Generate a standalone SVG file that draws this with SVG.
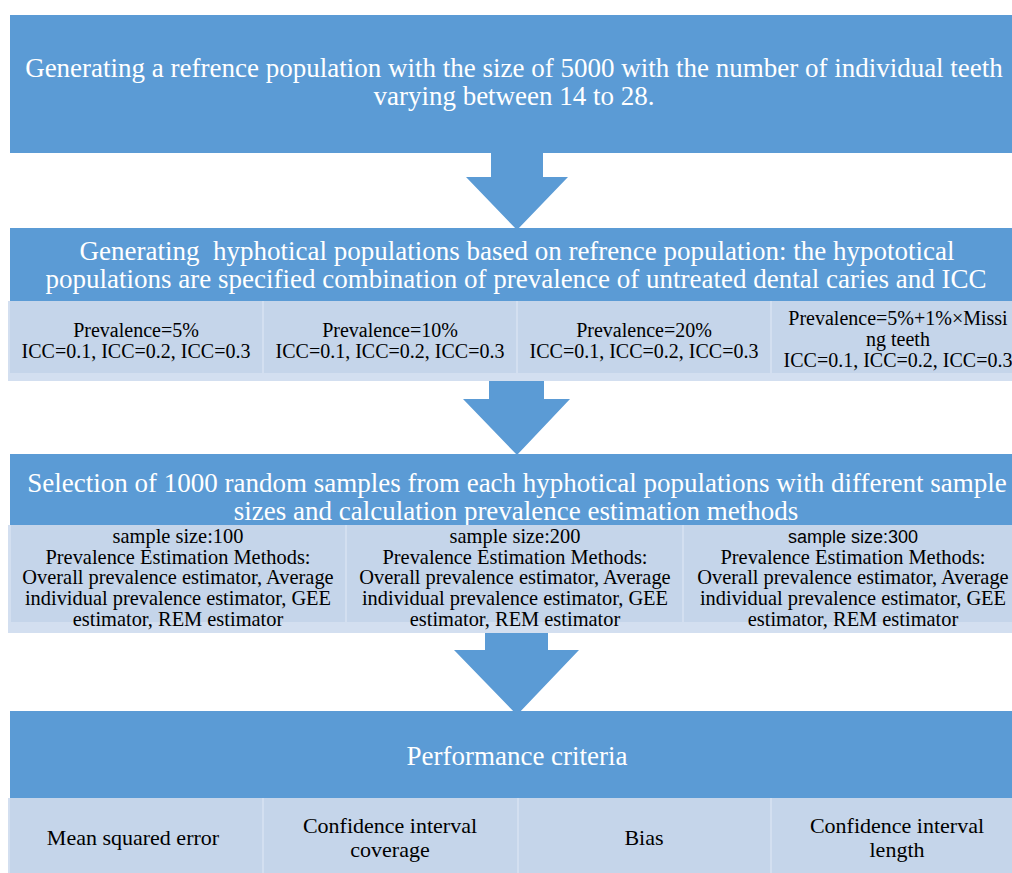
<svg xmlns="http://www.w3.org/2000/svg" width="1012" height="873" viewBox="0 0 1012 873">
<style>
.blue{fill:#5B9BD5}
.cell{fill:#C5D5EA}
.strip{fill:#D3DFF0}
.arrow{fill:#5B9BD5}
text{font-family:"Liberation Serif","Times New Roman",serif;text-anchor:middle}
.wt{fill:#FFFFFF;font-size:27px}
.bt{fill:#000000;font-size:20px}
.bt3{fill:#000000;font-size:20.4px}
.bt4{fill:#000000;font-size:22px}
.sans{font-family:"Liberation Sans",Arial,sans-serif;font-size:18px}
</style>
<rect width="1012" height="873" fill="#FFFFFF"/>
<g id="connectors">
<polygon class="arrow" points="491,153 543,153 543,177 568,177 517,230 466,177 491,177"/>
<polygon class="arrow" points="489,380 544,380 544,399 570,399 517,455 463,399 489,399"/>
<polygon class="arrow" points="485,633 548,633 548,650 579,650 517,715 454,650 485,650"/>
</g>
<g id="node-reference">
<rect class="blue" x="10" y="15" width="1014" height="138"/>
<text class="wt" x="514" y="77">Generating a refrence population with the size of 5000 with the number of individual teeth</text>
<text class="wt" x="514" y="105">varying between 14 to 28.</text>
</g>
<g id="node-hypothetical">
<rect class="blue" x="10" y="228" width="1014" height="73"/>
<text class="wt" x="517" y="260" xml:space="preserve">Generating  hyphotical populations based on refrence population: the hypototical</text>
<text class="wt" x="516" y="288">populations are specified combination of prevalence of untreated dental caries and ICC</text>
<rect class="strip" x="8" y="301" width="1016" height="80"/>
<rect class="cell" x="10" y="301" width="252" height="72"/>
<rect class="cell" x="264" y="301" width="252" height="72"/>
<rect class="cell" x="518" y="301" width="252" height="72"/>
<rect class="cell" x="772" y="301" width="252" height="72"/>
<text class="bt" x="136" y="337">Prevalence=5%</text>
<text class="bt" x="136" y="358">ICC=0.1, ICC=0.2, ICC=0.3</text>
<text class="bt" x="390" y="337">Prevalence=10%</text>
<text class="bt" x="390" y="358">ICC=0.1, ICC=0.2, ICC=0.3</text>
<text class="bt" x="644" y="337">Prevalence=20%</text>
<text class="bt" x="644" y="358">ICC=0.1, ICC=0.2, ICC=0.3</text>
<text class="bt" x="898" y="325">Prevalence=5%+1%×Missi</text>
<text class="bt" x="898" y="346">ng teeth</text>
<text class="bt" x="898" y="367">ICC=0.1, ICC=0.2, ICC=0.3</text>
</g>
<g id="node-samples">
<rect class="blue" x="10" y="454" width="1014" height="71"/>
<text class="wt" x="517" y="492">Selection of 1000 random samples from each hyphotical populations with different sample</text>
<text class="wt" x="516" y="520">sizes and calculation prevalence estimation methods</text>
<rect class="strip" x="8" y="525" width="1016" height="108"/>
<rect class="cell" x="11" y="525" width="334" height="97"/>
<rect class="cell" x="347" y="525" width="335" height="97"/>
<rect class="cell" x="684" y="525" width="340" height="97"/>
<text class="bt3" x="178" y="543">sample size:100</text>
<text class="bt3" x="178" y="564">Prevalence Estimation Methods:</text>
<text class="bt3" x="178" y="584">Overall prevalence estimator, Average</text>
<text class="bt3" x="178" y="605">individual prevalence estimator, GEE</text>
<text class="bt3" x="178" y="626">estimator, REM estimator</text>
<text class="bt3" x="515" y="543">sample size:200</text>
<text class="bt3" x="515" y="564">Prevalence Estimation Methods:</text>
<text class="bt3" x="515" y="584">Overall prevalence estimator, Average</text>
<text class="bt3" x="515" y="605">individual prevalence estimator, GEE</text>
<text class="bt3" x="515" y="626">estimator, REM estimator</text>
<text class="bt3 sans" x="853" y="543">sample size:300</text>
<text class="bt3" x="853" y="564">Prevalence Estimation Methods:</text>
<text class="bt3" x="853" y="584">Overall prevalence estimator, Average</text>
<text class="bt3" x="853" y="605">individual prevalence estimator, GEE</text>
<text class="bt3" x="853" y="626">estimator, REM estimator</text>
</g>
<g id="node-performance">
<rect class="blue" x="10" y="711" width="1014" height="87"/>
<text class="wt" x="517" y="765">Performance criteria</text>
<rect class="strip" x="8" y="798" width="1016" height="75"/>
<rect class="cell" x="10" y="798" width="252" height="75"/>
<rect class="cell" x="264" y="798" width="253" height="75"/>
<rect class="cell" x="519" y="798" width="251" height="75"/>
<rect class="cell" x="772" y="798" width="252" height="75"/>
<text class="bt4" x="133" y="845">Mean squared error</text>
<text class="bt4" x="390" y="833">Confidence interval</text>
<text class="bt4" x="390" y="857">coverage</text>
<text class="bt4" x="644" y="845">Bias</text>
<text class="bt4" x="897" y="833">Confidence interval</text>
<text class="bt4" x="897" y="857">length</text>
</g>
</svg>
